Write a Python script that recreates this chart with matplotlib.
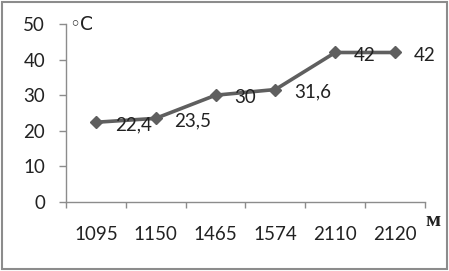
import matplotlib.pyplot as plt
from matplotlib.patches import Rectangle

# data
heights = ["1095", "1150", "1465", "1574", "2110", "2120"]
temps = [22.4, 23.5, 30, 31.6, 42, 42]
labels = ["22,4", "23,5", "30", "31,6", "42", "42"]
yticks = [0, 10, 20, 30, 40, 50]

plt.rcParams['font.family'] = ['Lato', 'DejaVu Sans']
FS = 13.5
TXT = '#222222'
GRID = '#8c8c8c'

fig = plt.figure(figsize=(4.49, 2.71), dpi=100)
ax = fig.add_axes([0.147, 0.2546, 0.7995, 0.6568])

x = list(range(len(heights)))
ax.plot(x, temps, color='#5f5f5f', lw=2.6, marker='D', ms=6.5,
        markerfacecolor='#5f5f5f', markeredgecolor='#5f5f5f')

for xi, t, lab in zip(x, temps, labels):
    ax.annotate(lab, (xi, t), xytext=(13.5, -2), textcoords='offset points',
                ha='left', va='center', fontsize=FS, color=TXT)

ax.set_xlim(-0.5, len(heights) - 0.5)
ax.set_ylim(0, 50)
ax.set_yticks(yticks)
ax.set_xticks(x)
ax.set_xticklabels(heights)
ax.set_xticks([i - 0.5 for i in range(len(heights) + 1)], minor=True)

for s in ['top', 'right']:
    ax.spines[s].set_visible(False)
for s in ['left', 'bottom']:
    ax.spines[s].set_color(GRID)
    ax.spines[s].set_linewidth(1.0)

ax.tick_params(axis='y', length=5, width=1, color=GRID, pad=10,
               labelsize=FS, labelcolor=TXT)
ax.tick_params(axis='x', which='major', length=0, pad=17,
               labelsize=FS, labelcolor=TXT)
ax.tick_params(axis='x', which='minor', length=4.5, width=1, color=GRID)

ax.text(0.008, 1.0, "◦C", transform=ax.transAxes, ha='left', va='center',
        fontsize=FS, color=TXT, family=['DejaVu Sans'])
fig.text(0.964, 0.185, "м", ha='center', va='center', fontsize=16,
         family='Liberation Serif', weight='bold', color=TXT)

fig.patches.append(Rectangle((0.004, 0.007), 0.992, 0.986, transform=fig.transFigure,
                             fill=False, edgecolor=GRID, lw=1.5))

fig.savefig("out.png", dpi=100)
